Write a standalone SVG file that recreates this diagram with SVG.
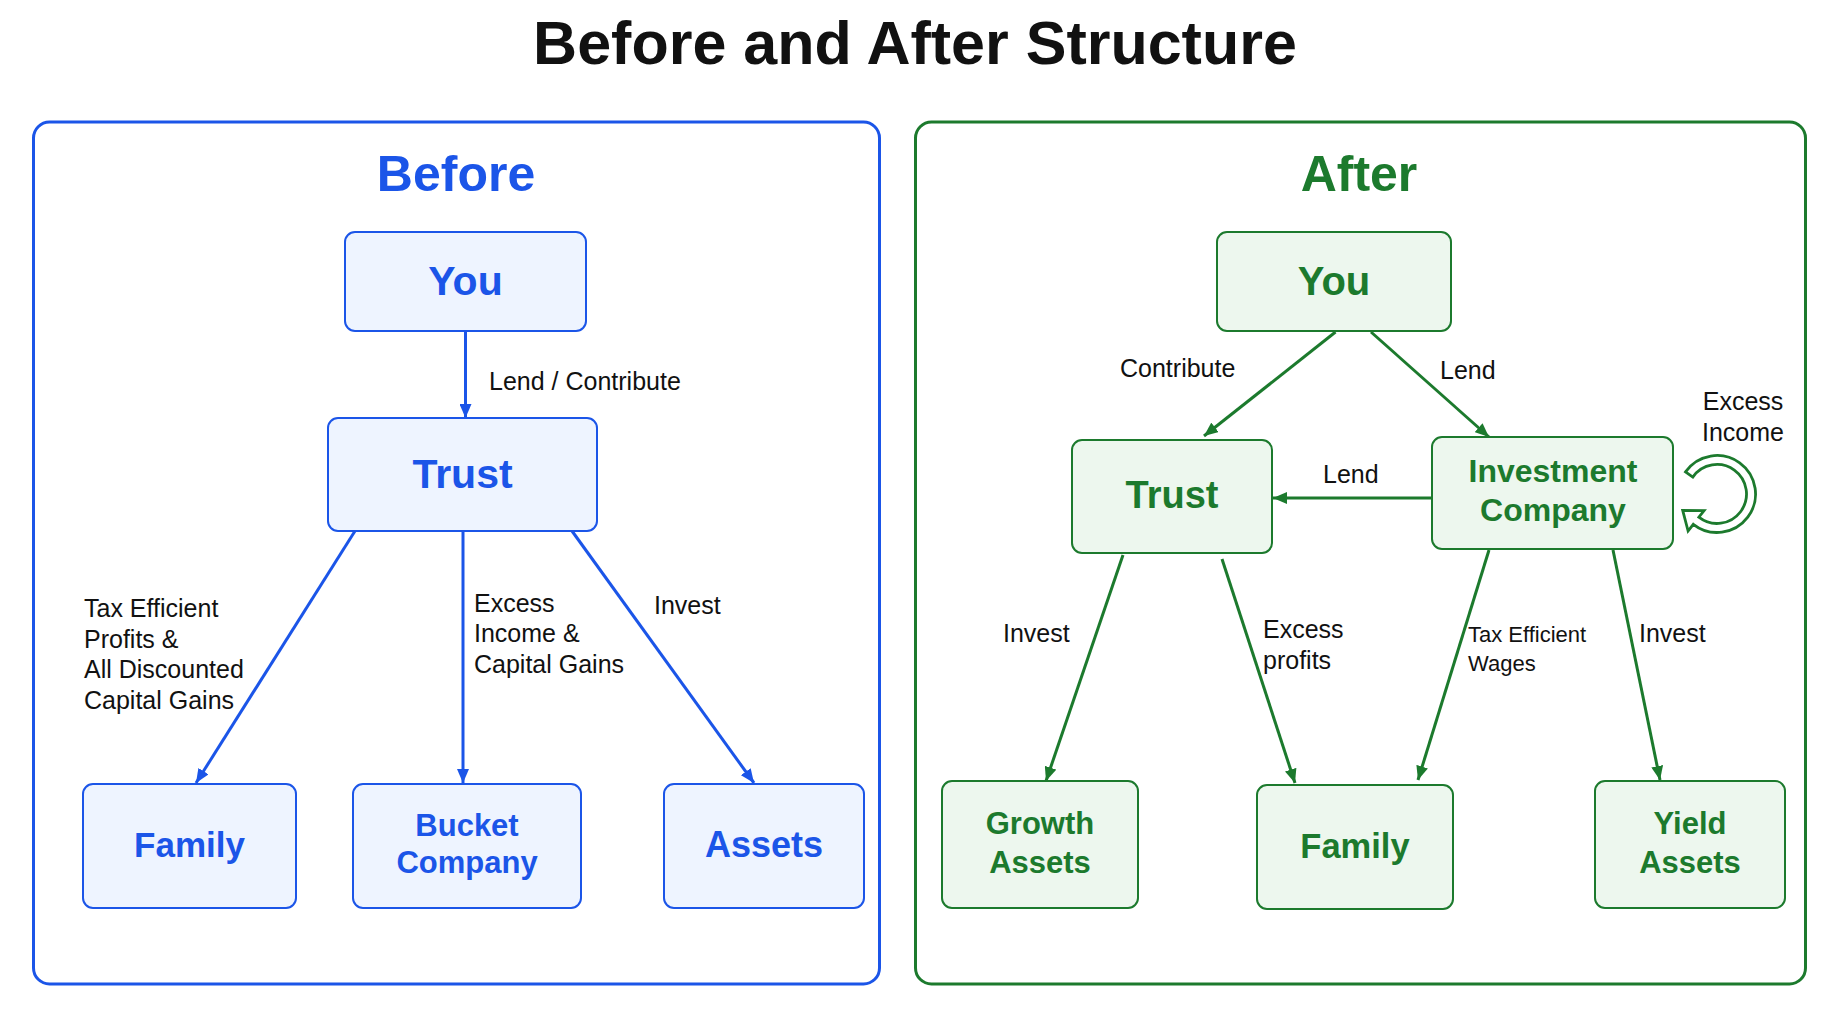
<svg xmlns="http://www.w3.org/2000/svg" width="1837" height="1026" viewBox="0 0 1837 1026">
<defs>
<style>
.title{font-family:"Liberation Sans",Arial,sans-serif;font-weight:bold;font-size:61px;fill:#111;text-anchor:middle}
.sec{font-family:"Liberation Sans",Arial,sans-serif;font-weight:bold;font-size:50px;text-anchor:middle}
.nb{font-family:"Liberation Sans",Arial,sans-serif;font-weight:bold;text-anchor:middle}
.lbl{font-family:"Liberation Sans",Arial,sans-serif;font-size:25px;fill:#111}
.lbls{font-family:"Liberation Sans",Arial,sans-serif;font-size:22px;fill:#111}
.panelB{fill:#fff;stroke:#1b55e8;stroke-width:3}
.panelA{fill:#fff;stroke:#1c7a2d;stroke-width:3}
.nodeB{fill:#eef4ff;stroke:#1b55e8;stroke-width:2}
.nodeA{fill:#edf7ee;stroke:#1c7a2d;stroke-width:2}
.tB{fill:#1b55e8}
.tA{fill:#1c7a2d}
.eB{stroke:#1b55e8;stroke-width:3;fill:none;marker-end:url(#arrB)}
.eA{stroke:#1c7a2d;stroke-width:3;fill:none;marker-end:url(#arrA)}
</style>
<marker id="arrB" markerUnits="userSpaceOnUse" markerWidth="15" markerHeight="12" refX="14" refY="6" orient="auto">
<path d="M0,0 L14,6 L0,12 Z" fill="#1b55e8"/>
</marker>
<marker id="arrA" markerUnits="userSpaceOnUse" markerWidth="15" markerHeight="12" refX="14" refY="6" orient="auto">
<path d="M0,0 L14,6 L0,12 Z" fill="#1c7a2d"/>
</marker>
</defs>
<rect width="1837" height="1026" fill="#fff"/>
<text class="title" x="915" y="64">Before and After Structure</text>

<g id="panel-before">
<rect class="panelB" x="33.5" y="122" width="846" height="862" rx="16"/>
<text class="sec tB" x="456" y="191">Before</text>
</g>
<g id="panel-after">
<rect class="panelA" x="915.5" y="122" width="890" height="862" rx="16"/>
<text class="sec tA" x="1359" y="191">After</text>
</g>

<g id="connectors">
<line class="eB" x1="465.5" y1="331" x2="465.5" y2="418"/>
<line class="eB" x1="355" y1="531" x2="196" y2="783"/>
<line class="eB" x1="463" y1="531" x2="463" y2="783"/>
<line class="eB" x1="572" y1="531" x2="754" y2="783"/>
<line class="eA" x1="1335.5" y1="332" x2="1204" y2="436"/>
<line class="eA" x1="1371" y1="332" x2="1489" y2="437"/>
<line class="eA" x1="1432" y1="498" x2="1273" y2="498" stroke-width="4"/>
<line class="eA" x1="1123" y1="555" x2="1046" y2="781"/>
<line class="eA" x1="1222" y1="559" x2="1295" y2="783"/>
<line class="eA" x1="1489" y1="550" x2="1418" y2="780"/>
<line class="eA" x1="1613" y1="550" x2="1660" y2="780"/>
<path id="self-loop" d="M1685.5,471.9 A38.5,38.5 0 1 1 1693.3,524.3 L1688.1,531 L1682.7,510.3 L1704.1,510.5 L1698.8,517.2 A29.5,29.5 0 1 0 1692.8,477.1 Z" fill="#fff" stroke="#1c7a2d" stroke-width="2.8" stroke-linejoin="miter"/>
</g>

<g id="labels">
<text class="lbl" x="489" y="390">Lend / Contribute</text>
<text class="lbl" x="84" y="617">Tax Efficient</text>
<text class="lbl" x="84" y="648">Profits &amp;</text>
<text class="lbl" x="84" y="678">All Discounted</text>
<text class="lbl" x="84" y="709">Capital Gains</text>
<text class="lbl" x="474" y="612">Excess</text>
<text class="lbl" x="474" y="642">Income &amp;</text>
<text class="lbl" x="474" y="673">Capital Gains</text>
<text class="lbl" x="654" y="614">Invest</text>
<text class="lbl" x="1120" y="377">Contribute</text>
<text class="lbl" x="1440" y="379">Lend</text>
<text class="lbl" x="1323" y="483">Lend</text>
<text class="lbl" x="1743" y="410" text-anchor="middle">Excess</text>
<text class="lbl" x="1743" y="441" text-anchor="middle">Income</text>
<text class="lbl" x="1003" y="642">Invest</text>
<text class="lbl" x="1263" y="638">Excess</text>
<text class="lbl" x="1263" y="669">profits</text>
<text class="lbls" x="1468" y="642">Tax Efficient</text>
<text class="lbls" x="1468" y="671">Wages</text>
<text class="lbl" x="1639" y="642">Invest</text>
</g>

<g id="b-you"><rect class="nodeB" x="345" y="232" width="241" height="99" rx="10"/><text class="nb tB" x="465.5" y="295" font-size="41">You</text></g>
<g id="b-trust"><rect class="nodeB" x="328" y="418" width="269" height="113" rx="10"/><text class="nb tB" x="462.5" y="488" font-size="41">Trust</text></g>
<g id="b-family"><rect class="nodeB" x="83" y="784" width="213" height="124" rx="10"/><text class="nb tB" x="189.5" y="857" font-size="35">Family</text></g>
<g id="b-bucket"><rect class="nodeB" x="353" y="784" width="228" height="124" rx="10"/><text class="nb tB" x="467" y="836" font-size="31">Bucket</text><text class="nb tB" x="467" y="873" font-size="31">Company</text></g>
<g id="b-assets"><rect class="nodeB" x="664" y="784" width="200" height="124" rx="10"/><text class="nb tB" x="764" y="857" font-size="36">Assets</text></g>

<g id="a-you"><rect class="nodeA" x="1217" y="232" width="234" height="99" rx="10"/><text class="nb tA" x="1334" y="295" font-size="40">You</text></g>
<g id="a-trust"><rect class="nodeA" x="1072" y="440" width="200" height="113" rx="10"/><text class="nb tA" x="1172" y="508" font-size="38">Trust</text></g>
<g id="a-invco"><rect class="nodeA" x="1432" y="437" width="241" height="112" rx="10"/><text class="nb tA" x="1553" y="482" font-size="32">Investment</text><text class="nb tA" x="1553" y="521" font-size="32">Company</text></g>
<g id="a-growth"><rect class="nodeA" x="942" y="781" width="196" height="127" rx="10"/><text class="nb tA" x="1040" y="834" font-size="31">Growth</text><text class="nb tA" x="1040" y="873" font-size="31">Assets</text></g>
<g id="a-family"><rect class="nodeA" x="1257" y="785" width="196" height="124" rx="10"/><text class="nb tA" x="1355" y="858" font-size="34.5">Family</text></g>
<g id="a-yield"><rect class="nodeA" x="1595" y="781" width="190" height="127" rx="10"/><text class="nb tA" x="1690" y="834" font-size="31">Yield</text><text class="nb tA" x="1690" y="873" font-size="31">Assets</text></g>
</svg>
